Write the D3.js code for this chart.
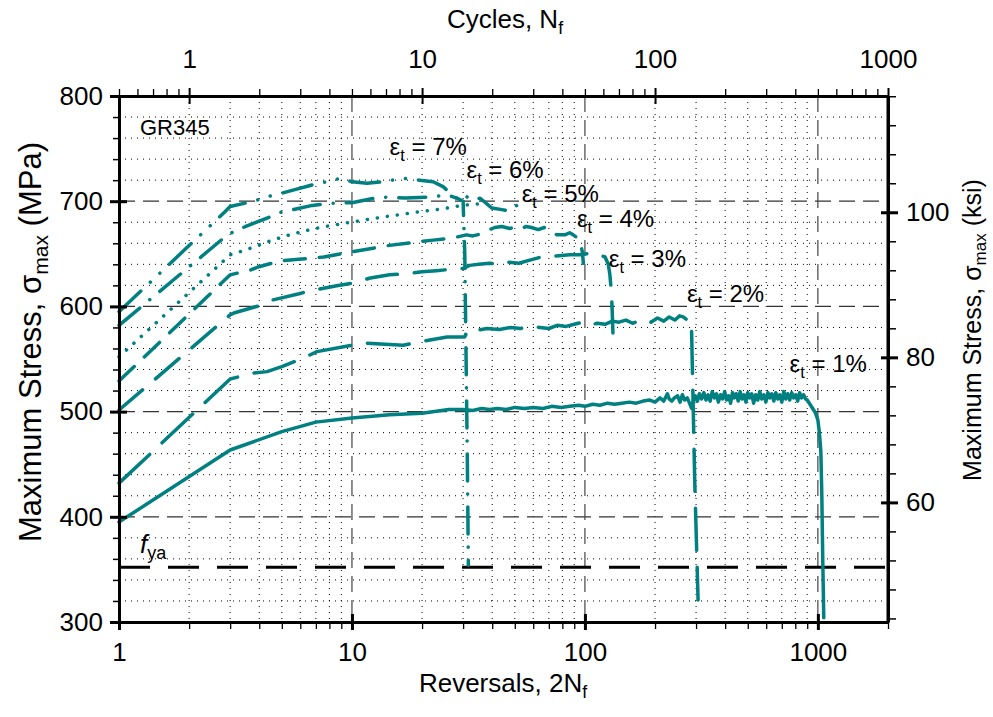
<!DOCTYPE html>
<html>
<head>
<meta charset="utf-8">
<script src="https://cdn.jsdelivr.net/npm/d3@7/dist/d3.min.js"></script>
<style>
  body { margin: 0; background: #fff; }
  svg text { font-family: "Liberation Sans", Arial, Helvetica, sans-serif; fill: #000; }
</style>
</head>
<body>
<div id="chart"></div>
<script>
/* Maximum stress vs. reversals for GR345 bars at seven total strain amplitudes. */

// each point: [reversals 2Nf, maximum stress MPa]
var strain1 = [[1,395],[3,463.5],[5,481],[7,490],[10,494],[14.5,497],[20,498.5],[26,502],[30,502],[33,501],[36,503],[39,502],
  [42,503],[46,502],[50,504],[55,503],[60,504],[66,503],[72,505],[79,504],[86,505],[94,506],[100,505],[108,507],[116,506],
  [125,508],[134,507],[144,508],[155,509],[166,508],[178,510],[190,511],[200,509],[210,513],[218,510],[226,517],[230,512],
  [236,510],[242,513],[250,515],[256,509],[262,516],[268,511],[275,513],[280,509],[287,503],[293,511],[298,515],[304,510],
  [310,517],[317,512],[324,518],[331,511],[338,516],[345,510],[352,519],[360,513],[367,517],[374,509],[382,516],[390,512],
  [398,519],[406,511],[414,515],[422,508],[430,518],[438,513],[446,517],[455,510],[464,519],[473,512],[482,516],[491,509],
  [500,518],[510,513],[520,517],[530,508],[541,516],[552,511],[563,519],[574,512],[586,516],[598,509],[610,518],[622,513],
  [634,517],[647,510],[660,518],[673,512],[686,516],[700,509],[714,519],[728,512],[742,517],[757,511],[772,518],[787,513],
  [803,516],[819,510],[835,518],[851,513],[868,516],[885,512],[900,511],[925,507],[950,503],[975,499],[1000,492],[1015,480],
  [1030,462],[1040,420],[1050,356],[1060,304]];
var strain2 = [[1,432],[3,531],[3.8,536.7],[4.32,538],[5,542.7],[6.2,551],[7.07,557],[10,563],[11.6,565],[16.6,563],[19.2,566],
  [21.6,568],[25.6,571],[30.5,571],[31.2,577],[34,577],[38,579],[43,578],[48,580],[53,579],[58,581],[64,580],[70,579],
  [76,582],[83,581],[90,583],[98,585],[105,582],[113,584],[122,583],[131,586],[140,585],[150,587],[160,584],[170,586],
  [180,588],[192,585],[205,589],[218,586],[230,590],[243,587],[255,591],[264,590],[275,587],[283,588],[287,577],[290,530],
  [296,435],[306,321]];
var strain3 = [[1,501.5],[3,592],[3.11,593.7],[4.05,601],[4.54,606],[5.93,612],[6.65,615],[8.6,619.6],[10,622],[12,627],
  [14.5,630],[17,631],[20,633],[23,634],[26,635],[30,636],[32,639],[35,640],[39,641],[44,640],[47,642],[52,641],[58,644],
  [65,647],[75,648],[86,649],[95,649],[108,651],[115,649],[122,647],[126,640],[128,630],[130,613],[131,595],[132,573]];
var strain4 = [[1,529],[3,630],[3.67,634.6],[3.99,637.7],[4.95,643.4],[5.92,644.8],[7.57,647],[10,652],[14.5,658],[22.3,663],
  [27,665],[31,668],[33,667],[36,669],[39,673],[41,675],[44,676],[47.6,674],[51,676],[53.5,674],[56,676],[59,675],[63,673],
  [67,675],[71,671],[76,668],[82,668],[86,670],[89,668],[93,665],[95.5,660],[97.5,652],[98.5,641]];
var strain5 = [[1,552],[3,649],[3.53,654],[4.29,661],[5.2,667],[6.34,672],[7.7,676],[10.2,680.5],[13.6,685],[19.5,690],
  [25,693],[29.6,696],[33,697],[36.6,698]];
var strain6 = [[1,582],[2.92,668],[3.22,672.6],[3.5,676],[4.48,685.3],[4.86,689],[6.76,696],[8.2,698],[10,698.6],[13.2,704],
  [17,703],[21.6,704],[25.6,706],[28.2,703],[30,700],[30.5,650],[30.9,550],[31.3,450],[31.6,354]];
var strain7 = [[1,595],[2.85,690],[3,695],[3.55,698.6],[3.92,701],[4.26,704],[4.7,706],[5.9,712],[6.5,714.5],[7.2,717],
  [7.8,718.5],[8.95,721.8],[10,718.5],[11.6,717],[13.6,718.5],[16.6,721.8],[19.5,720],[22.3,718.5],[24.6,713.8],[27,706],
  [28.1,702.8],[30,706.6],[32.6,701.2],[35.5,702.8],[39.9,693.5],[44,692],[47.5,690.7],[51,696]];

var strainLabels = ["1%", "2%", "3%", "4%", "5%", "6%", "7%"];
var fya = 352;  // MPa

var stressTicks = [300, 400, 500, 600, 700, 800];
var ksiTicks = [60, 80, 100];
var reversalTicks = [1, 10, 100, 1000];
var cycleTicks = [1, 10, 100, 1000];

var KSI = 6.894757;

var W = 993, H = 717;
var L = 119, R = 888, T = 96, B = 622;
var teal = "#008080";

var svg = d3.select("#chart").append("svg").attr("width", W).attr("height", H);

var x = d3.scaleLog().domain([1, 2000]).range([L, R]);
var xTop = d3.scaleLog().domain([0.5, 1000]).range([L, R]);
var y = d3.scaleLinear().domain([300, 800]).range([B, T]);
var yKsi = d3.scaleLinear().domain([300 / KSI, 800 / KSI]).range([B, T]);

function logMinors(lo, hi) {
  var out = [];
  for (var p = lo; p < hi; p *= 10)
    for (var k = 2; k <= 9; k++) out.push(k * p);
  return out;
}
var revMinor = logMinors(1, 1000).concat([2000]);
var cycMinor = [0.5, 0.6, 0.7, 0.8, 0.9].concat(logMinors(1, 1000));
var stressMinor = d3.range(320, 800, 20).filter(function (v) { return v % 100; });
var ksiMinor = d3.range(44, 117, 4).filter(function (v) { return ksiTicks.indexOf(v) < 0; });

/* grid */
var grid = svg.append("g");
grid.selectAll(".hmin").data(stressMinor).join("line")
  .attr("x1", L).attr("x2", R).attr("y1", function (d) { return y(d); }).attr("y2", function (d) { return y(d); })
  .attr("stroke", "#000").attr("stroke-width", 1).attr("stroke-dasharray", "1,5");
grid.selectAll(".vmin").data(logMinors(1, 1000)).join("line")
  .attr("y1", T).attr("y2", B).attr("x1", function (d) { return x(d); }).attr("x2", function (d) { return x(d); })
  .attr("stroke", "#000").attr("stroke-width", 1).attr("stroke-dasharray", "1,5");
grid.selectAll(".hmaj").data([400, 500, 600, 700]).join("line")
  .attr("x1", L).attr("x2", R).attr("y1", function (d) { return y(d); }).attr("y2", function (d) { return y(d); })
  .attr("stroke", "#333").attr("stroke-width", 1.2).attr("stroke-dasharray", "16,8");
grid.selectAll(".vmaj").data([10, 100, 1000]).join("line")
  .attr("y1", T).attr("y2", B).attr("x1", function (d) { return x(d); }).attr("x2", function (d) { return x(d); })
  .attr("stroke", "#444").attr("stroke-width", 1.2).attr("stroke-dasharray", "16,8");

/* yield stress line */
svg.append("line").attr("x1", L).attr("x2", R).attr("y1", y(fya)).attr("y2", y(fya))
  .attr("stroke", "#000").attr("stroke-width", 3).attr("stroke-dasharray", "31,18");

/* curves */
var dashes = [null, "42,17", "31,17", "21,14", "0.1,10", "27,13,0.1,13", "30,13,0.1,13,0.1,13"];
var all = [strain1, strain2, strain3, strain4, strain5, strain6, strain7];
var line = d3.line().x(function (d) { return x(d[0]); }).y(function (d) { return y(d[1]); });
all.forEach(function (s, i) {
  svg.append("path").attr("d", line(s)).attr("fill", "none")
    .attr("stroke", teal).attr("stroke-width", 3.5)
    .attr("stroke-linecap", "round").attr("stroke-linejoin", "round")
    .attr("stroke-dasharray", dashes[i]);
});

/* axes */
function styleAxis(g, w) {
  g.select(".domain").attr("stroke-width", 3).attr("stroke", "#000");
  g.selectAll(".tick line").attr("stroke-width", w).attr("stroke", "#000");
  g.selectAll("text").attr("font-size", 26).attr("fill", "#000")
    .attr("font-family", "Liberation Sans, Arial, sans-serif");
}

var gb = svg.append("g").attr("transform", "translate(0," + B + ")");
gb.call(d3.axisBottom(x).tickValues(revMinor).tickSize(7).tickFormat("").tickSizeOuter(0));
styleAxis(gb, 1.3);
var gb2 = svg.append("g").attr("transform", "translate(0," + B + ")");
gb2.call(d3.axisBottom(x).tickValues(reversalTicks).tickSize(8).tickPadding(13).tickSizeOuter(0).tickFormat(d3.format("d")));
styleAxis(gb2, 3);
gb2.selectAll(".tick line").attr("y1", -8);
gb2.select(".domain").remove();

var gt = svg.append("g").attr("transform", "translate(0," + T + ")");
gt.call(d3.axisTop(xTop).tickValues(cycMinor).tickSize(7).tickFormat("").tickSizeOuter(0));
styleAxis(gt, 1.3);
var gt2 = svg.append("g").attr("transform", "translate(0," + T + ")");
gt2.call(d3.axisTop(xTop).tickValues(cycleTicks).tickSize(8).tickPadding(20).tickSizeOuter(0).tickFormat(d3.format("d")));
styleAxis(gt2, 2);
gt2.selectAll(".tick line").attr("y1", 8);
gt2.select(".domain").remove();

var gl = svg.append("g").attr("transform", "translate(" + L + ",0)");
gl.call(d3.axisLeft(y).tickValues(stressMinor).tickSize(6).tickFormat("").tickSizeOuter(0));
styleAxis(gl, 1.5);
var gl2 = svg.append("g").attr("transform", "translate(" + L + ",0)");
gl2.call(d3.axisLeft(y).tickValues(stressTicks).tickSize(9).tickPadding(7).tickSizeOuter(0));
styleAxis(gl2, 3);
gl2.selectAll(".tick line").attr("x1", 8);
gl2.select(".domain").remove();

var gr = svg.append("g").attr("transform", "translate(" + R + ",0)");
gr.call(d3.axisRight(yKsi).tickValues(ksiMinor).tickSize(8).tickFormat("").tickSizeOuter(0));
styleAxis(gr, 1.5);
var gr2 = svg.append("g").attr("transform", "translate(" + R + ",0)");
gr2.call(d3.axisRight(yKsi).tickValues(ksiTicks).tickSize(10).tickPadding(8).tickSizeOuter(0));
styleAxis(gr2, 3);
gr2.selectAll(".tick line").attr("x1", -7);
gr2.select(".domain").remove();
// close the frame
svg.append("line").attr("x1", R).attr("x2", R).attr("y1", T).attr("y2", B).attr("stroke", "#000").attr("stroke-width", 3);

/* titles */
function subText(g, parts, size, drop) {
  drop = drop || 6;
  var t = g.append("text").attr("font-size", size);
  var shift = 0;
  parts.forEach(function (p) {
    var dy = (p[1] ? drop : 0) - shift;
    shift = p[1] ? drop : 0;
    t.append("tspan").attr("dy", dy).attr("font-size", p[1] ? size * 0.68 : size).text(p[0]);
  });
  return t;
}

subText(svg, [["Cycles, N", 0], ["f", 1]], 26)
  .attr("x", 505).attr("y", 28).attr("text-anchor", "middle");
subText(svg, [["Reversals, 2N", 0], ["f", 1]], 26)
  .attr("x", 503).attr("y", 692).attr("text-anchor", "middle");
subText(svg, [["Maximum Stress, \u03c3", 0], ["max", 1], [" (MPa)", 0]], 31, 7)
  .attr("text-anchor", "middle").attr("transform", "translate(41,342) rotate(-90)");
subText(svg, [["Maximum Stress, \u03c3", 0], ["max", 1], [" (ksi)", 0]], 25, 5)
  .attr("text-anchor", "middle").attr("transform", "translate(981,330) rotate(-90)");

svg.append("text").attr("x", x(1.23)).attr("y", y(763)).attr("font-size", 22).text("GR345");

var fy = svg.append("text").attr("x", x(1.23)).attr("y", y(365.6)).attr("font-size", 26);
fy.append("tspan").attr("font-style", "italic").text("f");
fy.append("tspan").attr("dy", 6).attr("font-size", 18).text("ya");

/* strain labels, anchored in data coordinates */
var labelAt = [[756, 537.6], [274, 604], [126.5, 637.5], [92.4, 675.5], [53.5, 699], [31, 722], [14.5, 744]];
strainLabels.forEach(function (s, i) {
  subText(svg, [["\u03b5", 0], ["t", 1], [" = " + s, 0]], 24)
    .attr("x", x(labelAt[i][0])).attr("y", y(labelAt[i][1]));
});
</script>
</body>
</html>
